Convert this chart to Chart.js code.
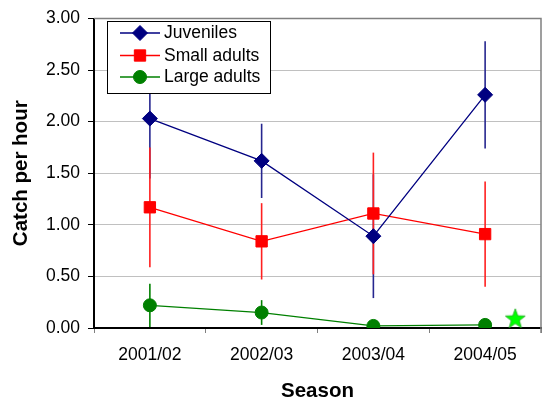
<!DOCTYPE html>
<html>
<head>
<meta charset="utf-8">
<script src="https://cdn.jsdelivr.net/npm/chart.js@4/dist/chart.umd.min.js"></script>
<style>
  body { margin: 0; background: #fff; }
  #wrap { width: 543px; height: 405px; }
</style>
</head>
<body>
<div id="wrap"><canvas id="catchChart" width="543" height="405"></canvas></div>
<script>
// values
const seasons = ['2001/02', '2002/03', '2003/04', '2004/05'];
const juveniles = [2.03, 1.62, 0.89, 2.26];
const juvenilesErr = [0.58, 0.36, 0.60, 0.52];
const smallAdults = [1.17, 0.84, 1.11, 0.91];
const smallAdultsErr = [0.58, 0.37, 0.59, 0.51];
const largeAdults = [0.22, 0.15, 0.02, 0.03];
const largeAdultsErr = [0.21, 0.12, 0, 0];
const starPoint = [{ x: 3.27, y: 0.09 }];
const yTicks = [0, 0.5, 1, 1.5, 2, 2.5, 3];

const FONT = '"Liberation Sans", Arial, sans-serif';

// five point star used as point style
function makeStar() {
    const c = document.createElement('canvas');
    c.width = 24; c.height = 24;
    const g = c.getContext('2d');
    const R = 10.5, r = 4.3, cx = 12, cy = 12.5;
    g.beginPath();
    for (let i = 0; i < 10; i++) {
        const rad = i % 2 ? r : R;
        const a = -Math.PI / 2 + i * Math.PI / 5;
        g.lineTo(cx + rad * Math.cos(a), cy + rad * Math.sin(a));
    }
    g.closePath();
    g.fillStyle = '#00ff00';
    g.fill();
    g.strokeStyle = '#22aa22';
    g.lineWidth = 0.8;
    g.stroke();
    return c;
}

const errorBars = {
    id: 'errorBars',
    beforeDatasetsDraw(chart) {
        const ctx = chart.ctx;
        const x = chart.scales.x, y = chart.scales.y;
        ctx.save();
        chart.data.datasets.forEach(ds => {
            if (!ds.errors) return;
            ctx.strokeStyle = ds.errorColor;
            ctx.lineWidth = 1.6;
            ds.data.forEach((v, i) => {
                const e = ds.errors[i];
                if (!e) return;
                const px = x.getPixelForValue(i);
                ctx.beginPath();
                ctx.moveTo(px, y.getPixelForValue(Math.max(0, v - e)));
                ctx.lineTo(px, y.getPixelForValue(v + e));
                ctx.stroke();
            });
        });
        // top and right frame
        const a = chart.chartArea;
        ctx.strokeStyle = '#808080';
        ctx.lineWidth = 1.5;
        ctx.beginPath();
        ctx.moveTo(a.left, a.top);
        ctx.lineTo(a.right, a.top);
        ctx.lineTo(a.right, a.bottom + 5);
        ctx.stroke();
        ctx.restore();
    }
};

const boxLegend = {
    id: 'boxLegend',
    afterDatasetsDraw(chart) {
        const ctx = chart.ctx;
        ctx.save();
        ctx.fillStyle = '#fff';
        ctx.fillRect(107, 21, 163, 72);
        ctx.strokeStyle = '#000';
        ctx.lineWidth = 1;
        ctx.strokeRect(107.5, 21.5, 163, 72);
        const rows = [33, 55.5, 77];
        chart.data.datasets.slice(0, 3).forEach((ds, i) => {
            const yy = rows[i];
            ctx.strokeStyle = ds.borderColor;
            ctx.lineWidth = 1.3;
            ctx.beginPath();
            ctx.moveTo(120, yy);
            ctx.lineTo(160, yy);
            ctx.stroke();
            ctx.fillStyle = ds.pointBackgroundColor;
            ctx.strokeStyle = ds.pointBorderColor;
            ctx.lineWidth = 1;
            Chart.helpers.drawPoint(ctx, {
                pointStyle: ds.pointStyle, radius: ds.pointRadius, rotation: 0, borderWidth: 1
            }, 140, yy);
            ctx.fillStyle = '#000';
            ctx.font = '17.5px ' + FONT;
            ctx.textBaseline = 'middle';
            ctx.fillText(ds.label, 164, yy + 0.5);
        });
        ctx.restore();
    }
};

new Chart('catchChart', {
    type: 'line',
    data: {
        labels: seasons,
        datasets: [{
            label: 'Juveniles',
            data: juveniles,
            errors: juvenilesErr,
            errorColor: '#26268f',
            borderColor: '#000080',
            borderWidth: 1.3,
            pointStyle: 'rectRot',
            pointRadius: 7.5,
            pointBackgroundColor: '#000080',
            pointBorderColor: '#000080',
            pointBorderWidth: 1
        }, {
            label: 'Small adults',
            data: smallAdults,
            errors: smallAdultsErr,
            errorColor: '#ff2020',
            borderColor: '#ff0000',
            borderWidth: 1.3,
            pointStyle: 'rect',
            pointRadius: 8,
            pointBackgroundColor: '#ff0000',
            pointBorderColor: '#ff0000',
            pointBorderWidth: 1
        }, {
            label: 'Large adults',
            data: largeAdults,
            errors: largeAdultsErr,
            errorColor: '#008000',
            borderColor: '#008000',
            borderWidth: 1.3,
            pointStyle: 'circle',
            pointRadius: 6.5,
            pointBackgroundColor: '#008000',
            pointBorderColor: '#008000',
            pointBorderWidth: 1
        }, {
            label: 'star',
            data: starPoint,
            xAxisID: 'x2',
            showLine: false,
            pointStyle: makeStar(),
            pointRadius: 10
        }]
    },
    options: {
        responsive: false,
        animation: false,
        layout: { autoPadding: false, padding: { top: 16, right: 2, left: 0, bottom: 0 } },
        plugins: { legend: { display: false }, tooltip: { enabled: false } },
        scales: {
            x: {
                type: 'category',
                offset: true,
                afterFit(s) { s.height = 77; },
                grid: { offset: true, drawOnChartArea: false, tickLength: 5, tickColor: '#808080' },
                border: { color: '#000', width: 2 },
                ticks: { color: '#000', padding: 12, font: { family: FONT, size: 17.5 }, maxRotation: 0 },
                title: {
                    display: true, text: 'Season', color: '#000',
                    font: { family: FONT, size: 20.5, weight: 'bold', lineHeight: 1.2 },
                    padding: { top: 0, bottom: 1 }
                }
            },
            x2: { type: 'linear', display: false, min: -0.5, max: 3.5 },
            y: {
                min: 0,
                max: 3,
                afterFit(s) { s.width = 94; },
                afterBuildTicks(s) { s.ticks = yTicks.map(v => ({ value: v })); },
                grid: { color: '#c0c0c0', tickColor: '#000', tickLength: 6, lineWidth: 1 },
                border: { color: '#000', width: 2 },
                ticks: {
                    color: '#000', padding: 8,
                    font: { family: FONT, size: 17.5 },
                    callback: v => v.toFixed(2)
                },
                title: {
                    display: true, text: 'Catch per hour', color: '#000',
                    font: { family: FONT, size: 20.5, weight: 'bold', lineHeight: 1.2 },
                    padding: { top: 9, bottom: 0 }
                }
            }
        }
    },
    plugins: [errorBars, boxLegend]
});
</script>
</body>
</html>
